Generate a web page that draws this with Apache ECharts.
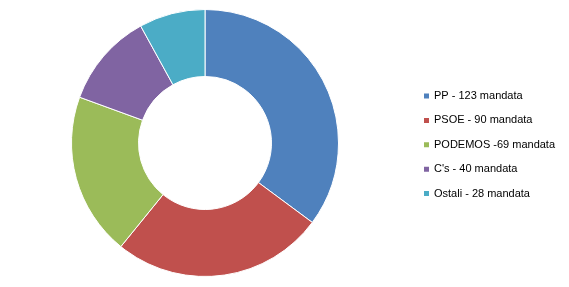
<!DOCTYPE html>
<html>
<head>
<meta charset="utf-8">
<script src="https://cdn.jsdelivr.net/npm/echarts@6/dist/echarts.min.js"></script>
<style>html,body{margin:0;padding:0;background:#fff;}#c{width:569px;height:287px;}</style>
</head>
<body>
<div id="c"></div>
<script>
var labels = ["PP - 123 mandata", "PSOE - 90 mandata", "PODEMOS -69 mandata", "C's - 40 mandata", "Ostali - 28 mandata"];
var values = [123, 90, 69, 40, 28];
var colors = ["#4F81BD", "#C0504D", "#9BBB59", "#8064A2", "#4BACC6"];

var chart = echarts.init(document.getElementById('c'), null, {renderer: 'canvas'});
chart.setOption({
  animation: false,
  color: colors,
  legend: {
    orient: 'vertical',
    left: 422,
    top: 90,
    padding: 0,
    itemWidth: 7,
    itemHeight: 7,
    itemGap: 12.4,
    icon: 'rect',
    textStyle: {fontFamily: 'Liberation Sans, Arial, sans-serif', fontSize: 11, color: '#000', lineHeight: 12, padding: [0,0,0,-1]},
    data: labels
  },
  series: [{
    type: 'pie',
    center: [205, 143],
    radius: [66.5, 133.5],
    startAngle: 90,
    clockwise: true,
    label: {show: false},
    labelLine: {show: false},
    itemStyle: {borderColor: '#fff', borderWidth: 1},
    emphasis: {disabled: true},
    data: labels.map(function(n, i){ return {name: n, value: values[i]}; })
  }]
});
</script>
</body>
</html>
